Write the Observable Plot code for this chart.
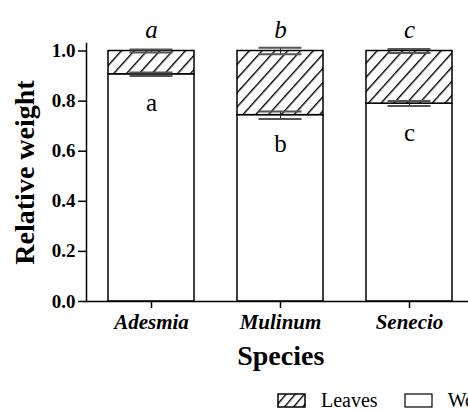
<!DOCTYPE html>
<html><head><meta charset="utf-8">
<script src="https://cdn.jsdelivr.net/npm/d3@7"></script>
<script src="https://cdn.jsdelivr.net/npm/@observablehq/plot@0.6"></script>
<style>
html,body{margin:0;padding:0;background:#fff;overflow:hidden;width:468px;height:410px}
#wrap{position:relative;width:468px;height:410px;overflow:hidden}
#chart{position:absolute;left:0;top:0;width:490px}
#chart svg{max-width:none !important}
#legend{position:absolute;left:277px;top:389px;font-family:"Liberation Serif","Times New Roman",serif;font-size:20px;white-space:nowrap;display:flex;align-items:center;color:#000}
#legend .item{display:flex;align-items:center;margin-right:26px}
#legend svg{margin-right:15px}
</style></head><body><div id="wrap"><div id="chart"></div><div id="legend"></div></div>
<script>
const species = ["Adesmia", "Mulinum", "Senecio"];
const woodShare = [0.907, 0.744, 0.790];
const leavesShare = [0.093, 0.256, 0.210];
const woodErr = [0.007, 0.015, 0.010];
const totalErr = [0.006, 0.013, 0.008];
const topLetters = ["a", "b", "c"];
const woodLetters = ["a", "b", "c"];
const yTicks = [0, 0.2, 0.4, 0.6, 0.8, 1.0];
const legendNames = ["Leaves", "Wood"];

const rows = species.map((s, i) => ({
  species: s,
  wood: woodShare[i],
  total: woodShare[i] + leavesShare[i],
  werr: woodErr[i],
  terr: totalErr[i],
  top: topLetters[i],
  low: woodLetters[i]
}));
const caps = rows.flatMap(d => [
  {species: d.species, y: d.wood - d.werr},
  {species: d.species, y: d.wood + d.werr},
  {species: d.species, y: d.total - d.terr},
  {species: d.species, y: d.total + d.terr}
]);

const serif = '"Liberation Serif","Times New Roman",serif';

const plot = Plot.plot({
  width: 490,
  height: 375,
  marginLeft: 86,
  marginRight: 15.5,
  marginTop: 43,
  marginBottom: 74,
  style: {fontFamily: serif, color: "#000", background: "#fff", overflow: "visible", maxWidth: "none"},
  x: {domain: species, paddingInner: 0.336, paddingOuter: 0.17, label: null},
  y: {domain: [0, 1.03], label: null},
  marks: [
    Plot.barY(rows, {x: "species", y1: 0, y2: "wood", fill: "white", stroke: "black", strokeWidth: 1.5}),
    Plot.barY(rows, {x: "species", y1: "wood", y2: "total", fill: "url(#hatch)", stroke: "black", strokeWidth: 1.5}),
    Plot.ruleX(rows, {x: "species", y1: d => d.wood - d.werr, y2: d => d.wood + d.werr, stroke: "#222", strokeWidth: 1}),
    Plot.ruleX(rows, {x: "species", y1: d => d.total - d.terr, y2: d => d.total + d.terr, stroke: "#222", strokeWidth: 1}),
    Plot.tickY(caps, {x: "species", y: "y", stroke: "#555", strokeWidth: 2, insetLeft: 21.5, insetRight: 21.5}),
    Plot.text(rows, {x: "species", y: "total", text: "top", dy: -21, fontSize: 25, fontStyle: "italic", fontFamily: serif}),
    Plot.text(rows, {x: "species", y: "wood", text: "low", dy: 29, fontSize: 25, fontFamily: serif}),
    Plot.frame({anchor: "left", strokeWidth: 1.5}),
    Plot.frame({anchor: "bottom", strokeWidth: 1.5}),
    Plot.axisY({ticks: yTicks, tickFormat: d3.format(".1f"), tickSize: 8, tickPadding: 3, fontSize: 19, fontWeight: "bold", fontFamily: serif, strokeWidth: 1.5, label: null}),
    Plot.axisX({tickSize: 7, tickPadding: 6, fontSize: 21, fontWeight: "bold", fontStyle: "italic", fontFamily: serif, strokeWidth: 1.5, label: null}),
    Plot.text(["Species"], {frameAnchor: "bottom", lineAnchor: "middle", dy: 55, fontSize: 28, fontWeight: "bold", fontFamily: serif}),
    Plot.text(["Relative weight"], {frameAnchor: "left", textAnchor: "middle", lineAnchor: "middle", dx: -61, rotate: -90, fontSize: 28, fontWeight: "bold", fontFamily: serif})
  ]
});

// hatch pattern definition
const ns = "http://www.w3.org/2000/svg";
const defs = document.createElementNS(ns, "defs");
defs.innerHTML = '<pattern id="hatch" patternUnits="userSpaceOnUse" width="9.5" height="9.5" patternTransform="rotate(42)"><rect width="9.5" height="9.5" fill="white"/><line x1="0" y1="0" x2="0" y2="9.5" stroke="black" stroke-width="2.8"/></pattern>';
plot.insertBefore(defs, plot.firstChild);
document.getElementById("chart").appendChild(plot);

// legend
const legend = document.getElementById("legend");
legendNames.forEach((name, i) => {
  const item = document.createElement("div");
  item.className = "item";
  const sw = i === 0
    ? '<svg width="29" height="15"><defs><pattern id="hatchL" patternUnits="userSpaceOnUse" width="7" height="7" patternTransform="rotate(40)"><rect width="7" height="7" fill="white"/><line x1="0" y1="0" x2="0" y2="7" stroke="black" stroke-width="2.8"/></pattern></defs><rect x="1" y="1" width="27" height="13" fill="url(#hatchL)" stroke="black" stroke-width="1.5"/></svg>'
    : '<svg width="29" height="15"><rect x="1" y="1" width="27" height="13" fill="white" stroke="black" stroke-width="1.2"/></svg>';
  item.innerHTML = sw + '<span>' + name + '</span>';
  legend.appendChild(item);
});
</script>
</body></html>
